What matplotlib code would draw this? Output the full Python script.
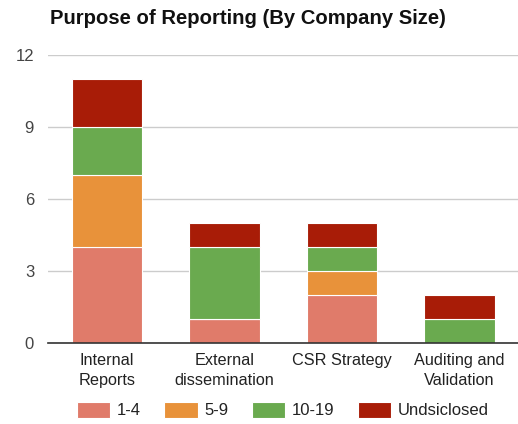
import matplotlib
matplotlib.use("Agg")
import matplotlib.pyplot as plt
import numpy as np

categories = ["Internal\nReports", "External\ndissemination", "CSR Strategy", "Auditing and\nValidation"]
series_names = ["1-4", "5-9", "10-19", "Undsiclosed"]
size_1_4 = [4, 1, 2, 0]
size_5_9 = [3, 0, 1, 0]
size_10_19 = [2, 3, 1, 1]
undisclosed = [2, 1, 1, 1]
colors = ["#E07B6A", "#E8923A", "#6AAA4F", "#A81C07"]
y_ticks = [0, 3, 6, 9, 12]

plt.rcParams["font.family"] = ["Liberation Sans", "DejaVu Sans"]

fig = plt.figure(figsize=(5.18, 4.24), dpi=100)
ax = fig.add_axes([48 / 518, (424 - 343) / 424, 1 - 48 / 518, (343 - 55) / 424])

x = np.arange(len(categories))
bottom = np.zeros(len(categories))
handles = []
for name, vals, col in zip(series_names, [size_1_4, size_5_9, size_10_19, undisclosed], colors):
    vals = np.array(vals, dtype=float)
    b = ax.bar(x, vals, bottom=bottom, width=0.6, color=col, edgecolor="white",
               linewidth=0.8, label=name, zorder=3)
    handles.append(b)
    bottom += vals

ax.set_xlim(-0.5, len(categories) - 0.5)
ax.set_ylim(0, 12)
ax.set_yticks(y_ticks)
ax.set_yticklabels([str(t) for t in y_ticks], fontsize=12, color="#444444")
ax.set_xticks(x)
ax.set_xticklabels(categories, fontsize=11.7, color="#222222", linespacing=1.45)
ax.tick_params(axis="x", length=0, pad=7)
ax.tick_params(axis="y", length=0, pad=10)
for s in ["top", "right", "left"]:
    ax.spines[s].set_visible(False)
ax.spines["bottom"].set_color("#333333")
ax.spines["bottom"].set_linewidth(1.2)
ax.spines["bottom"].set_zorder(4)
ax.yaxis.grid(True, color="#CCCCCC", linewidth=1, zorder=0)
ax.set_axisbelow(True)

fig.text(50 / 518, 1 - 19 / 424, "Purpose of Reporting (By Company Size)",
         fontsize=14.6, fontweight="bold", color="#111111", va="center", ha="left")

fig.legend(handles=handles, labels=series_names, loc="center",
           bbox_to_anchor=(283 / 518, 1 - 410 / 424), ncol=4, frameon=False,
           fontsize=12, handlelength=2.0, handleheight=1.1, columnspacing=1.4,
           handletextpad=0.4, labelcolor="#222222")

fig.savefig("out.png", dpi=100, facecolor="white")
